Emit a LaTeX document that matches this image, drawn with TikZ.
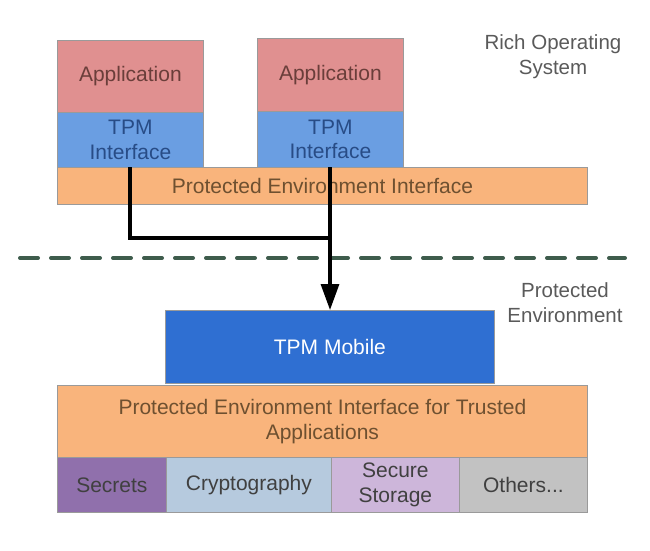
\documentclass[tikz,border=0pt]{standalone}
\usepackage{fontspec}
\setmainfont{Liberation Sans}
\usetikzlibrary{arrows.meta}
\definecolor{apppink}{HTML}{E09090}
\definecolor{tpmblue}{HTML}{6A9EE2}
\definecolor{orng}{HTML}{F9B47C}
\definecolor{mobblue}{HTML}{2F6FD2}
\definecolor{secpurp}{HTML}{9070AC}
\definecolor{cryblue}{HTML}{B6CADE}
\definecolor{stopurp}{HTML}{CDB6DA}
\definecolor{othgray}{HTML}{C2C2C2}
\definecolor{dashgreen}{HTML}{3E5C4C}
\definecolor{apptext}{HTML}{6A3E3A}
\definecolor{tpmtext}{HTML}{284C86}
\definecolor{orngtext}{HTML}{6E5030}
\definecolor{bordergray}{HTML}{9A9A9A}
\definecolor{lbltext}{HTML}{5A5A5A}
\tikzset{
  blk/.style={draw=bordergray, line width=0.8pt, inner sep=0pt, font=\fontsize{21}{24.5}\selectfont, align=center},
  lbl/.style={font=\fontsize{20.5}{25}\selectfont, align=center, text=lbltext},
  conn/.style={line width=3.2pt, black},
}
\begin{document}
\begin{tikzpicture}[x=1pt,y=-1pt]
\useasboundingbox (0,0) rectangle (650,550);
% top boxes
\node[blk, fill=apppink, text=apptext, minimum width=146, minimum height=72, anchor=north west] (app1) at (57,40) {Application};
\node[blk, fill=tpmblue, text=tpmtext, minimum width=146, minimum height=55, anchor=north west] (tpm1) at (57,112) {TPM\\Interface};
\node[blk, fill=apppink, text=apptext, minimum width=146, minimum height=73, anchor=north west] (app2) at (257,38) {Application};
\node[blk, fill=tpmblue, text=tpmtext, minimum width=146, minimum height=56, anchor=north west] (tpm2) at (257,111) {TPM\\Interface};
\node[blk, fill=orng, text=orngtext, minimum width=530, minimum height=37, anchor=north west] (pei) at (57,167) {Protected Environment Interface};
% labels
\node[lbl] (ros) at (553,57) {Rich Operating\\System};
\node[lbl] (pe) at (565,303) {Protected\\Environment};
% dashed separator
\coordinate (dl) at (20,258);
\coordinate (dr) at (625,258);
\draw[dashgreen, line width=4pt, dash pattern=on 18pt off 13pt, line cap=round] (dl) -- (dr);
% bottom boxes
\node[blk, fill=mobblue, text=white, minimum width=329, minimum height=73, anchor=north west] (mob) at (165,310) {TPM Mobile};
\node[blk, fill=orng, text=orngtext, minimum width=530, minimum height=72, anchor=north west] (peita) at (57,385) {Protected Environment Interface for Trusted\\Applications};
\node[blk, fill=secpurp, text=black!75, minimum width=109, minimum height=55, anchor=north west] (sec) at (57,457) {Secrets};
\node[blk, fill=cryblue, text=black!75, minimum width=165, minimum height=55, anchor=north west] (cry) at (166,457) {Cryptography};
\node[blk, fill=stopurp, text=black!75, minimum width=128, minimum height=55, anchor=north west] (sto) at (331,457) {Secure\\Storage};
\node[blk, fill=othgray, text=black!75, minimum width=128, minimum height=55, anchor=north west] (oth) at (459,457) {Others...};
% connectors
\coordinate (s1) at (130,167);
\coordinate (s2) at (330,167);
\coordinate (j1) at (130,238);
\coordinate (j2) at (330,238);
\draw[conn, line join=miter] (s1) -- (j1) -- (j2);
\draw[conn, -{Triangle[length=26pt,width=18pt]}] (s2) -- (mob.north -| s2);
\end{tikzpicture}
\end{document}
